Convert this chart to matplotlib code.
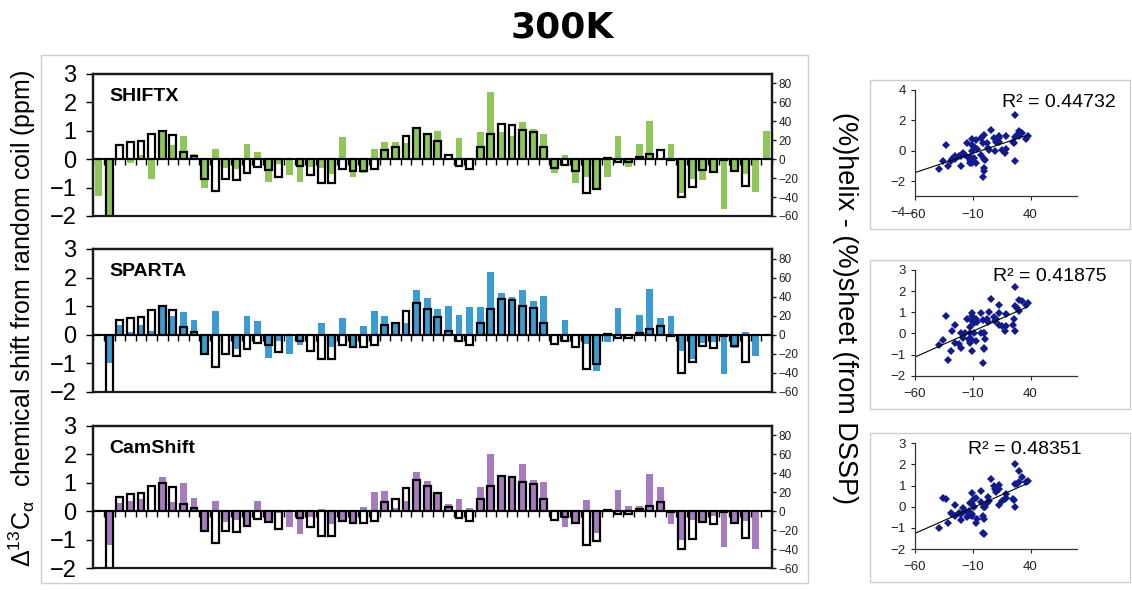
import numpy as np
import matplotlib
matplotlib.use("Agg")
import matplotlib.pyplot as plt
from matplotlib.patches import Rectangle

plt.rcParams['font.family'] = ['Liberation Sans', 'DejaVu Sans']
plt.rcParams['mathtext.fontset'] = 'custom'
plt.rcParams['mathtext.rm'] = 'Liberation Sans'
plt.rcParams['mathtext.it'] = 'Liberation Sans:italic'

# ---------------- data ----------------
residues = np.arange(64)

# (%)helix - (%)sheet from DSSP (outlined bars, right axis)
dssp_pct = [0, -62, 15, 18, 19, 26.5, 30, 25.5, 8, 3,
            -20.5, -33.5, -20.5, -22, -15, -8.5, -11, -18.4, 0, -7,
            -16.6, -25.5, -25.5, -10.6, -12.4, -12.4, -10.6, 10, 12.7, 24.8,
            33, 27, 18.8, 4.2, -7, -10.6, 12.7, 27, 37.5, 36,
            30.4, 28.3, 12.7, -9.2, -6.4, -12.7, -35.4, -31, 1, -3,
            -3, 2, 6, 9.5, -1, -39.6, -29, -11.3, -13.5, -1,
            -12, -28.3, 0, 0]

# predicted C-alpha secondary chemical shifts (ppm, left axis)
shiftx = [-1.31, -2.1, 0.03, -0.14, 0.15, -0.7, 0.98, 0.5, 0.82, 0.19,
          -1.02, 0.35, -0.32, -0.35, 0.53, 0.27, -0.82, -0.16, -0.57, -0.82,
          -0.26, -0.32, -0.53, 0.77, -0.61, -0.47, 0.35, 0.61, 0.59, 0.56,
          1.15, 0.88, 1.0, 0.02, 0.73, 0.0, 0.97, 2.36, 0.97, 0.8,
          1.3, 1.06, 0.87, -0.47, 0.14, -0.83, -0.64, -1.03, -0.61, 0.83,
          -0.28, 0.54, 1.35, 0.0, 0.52, -1.2, -0.68, -0.73, -0.45, -1.74,
          -0.4, -0.52, -1.16, 1.01]

sparta = [0.0, -0.97, 0.33, 0.1, 0.35, 0.12, 1.05, 0.66, 0.8, 0.53,
          -0.68, 0.84, 0.0, -0.49, 0.67, 0.47, -0.82, -0.23, -0.68, -0.35,
          0.0, 0.4, -0.44, 0.6, -0.38, 0.32, 0.84, 0.67, 0.42, 0.42,
          1.55, 1.3, 0.9, 1.02, 0.69, 0.98, 0.98, 2.19, 1.45, 1.33,
          1.57, 1.19, 1.35, 0.0, 0.52, 0.0, -0.31, -1.26, -0.26, 0.95,
          0.0, 0.69, 1.61, 0.57, 0.65, -0.57, -0.83, -0.27, -0.26, -1.38,
          -0.47, 0.11, -0.75, 0.0]

camshift = [0.0, -1.2, 0.29, 0.37, 0.42, 0.0, 1.19, 0.34, 1.0, 0.46,
            -0.65, 0.37, -0.36, -0.32, -0.48, 0.35, -0.42, -0.05, -0.56, -0.79,
            -0.19, 0.08, -0.45, -0.36, -0.38, 0.16, 0.66, 0.71, 0.1, 0.36,
            1.39, 1.06, 0.6, 0.26, 0.43, 0.13, 0.85, 2.02, 1.23, 1.18,
            1.67, 1.08, 1.02, 0.0, -0.56, -0.36, 0.41, -0.76, 0.0, 0.73,
            0.2, 0.18, 1.31, 0.85, -0.45, -1.0, -0.29, -0.35, -0.18, -1.26,
            -0.38, -0.33, -1.31, 0.0]

methods = ["SHIFTX", "SPARTA", "CamShift"]
method_values = [shiftx, sparta, camshift]
colors = ["#8fc65a", "#3d9bd3", "#a67cc0"]
r2_labels = ["R\u00b2 = 0.44732", "R\u00b2 = 0.41875", "R\u00b2 = 0.48351"]

left_ticks = [-2, -1, 0, 1, 2, 3]
right_ticks = [-60, -40, -20, 0, 20, 40, 60, 80]
scatter_xticks = [-60, -10, 40]
scatter_yticks = [[-4, -2, 0, 2, 4], [-2, -1, 0, 1, 2, 3], [-2, -1, 0, 1, 2, 3]]
scatter_ylims = [(-4, 4), (-2, 3), (-2, 3)]

# ---------------- layout ----------------
W, H = 1132, 590
fig = plt.figure(figsize=(W / 100, H / 100), dpi=100)


def fr(x0, y0, x1, y1):
    return [x0 / W, 1 - y1 / H, (x1 - x0) / W, (y1 - y0) / H]


def frame(x0, y0, x1, y1):
    fig.add_artist(Rectangle((x0 / W, 1 - y1 / H), (x1 - x0) / W, (y1 - y0) / H,
                             transform=fig.transFigure, fill=False,
                             edgecolor="#cfcfcf", linewidth=1.0))


frame(41, 55, 808, 583)
frame(870, 80, 1130, 229)
frame(870, 260, 1130, 409)
frame(870, 433, 1130, 582)

bar_boxes = [(93.3, 74, 771.7, 216), (93.3, 249, 771.7, 392), (93.3, 425.7, 771.7, 568.3)]
sc_boxes = [(915, 90, 1076.7, 211.6), (915, 270, 1076.7, 375.7), (915, 443.3, 1076.7, 549)]
r2_pos = [(0.89, 0.90), (0.835, 0.934), (0.68, 0.937)]

dssp = np.array(dssp_pct, dtype=float)
boundaries = np.arange(-0.5, 64, 1.0)

for k in range(3):
    vals = np.array(method_values[k], dtype=float)
    ax = fig.add_axes(fr(*bar_boxes[k]))
    ax.bar(residues, vals, width=0.66, color=colors[k], zorder=1)
    ax.set_xlim(-0.5, 63.5)
    ax.set_ylim(-2, 3)
    ax.set_yticks(left_ticks)
    ax.tick_params(axis='y', direction='out', length=5, width=1, labelsize=17, pad=7)
    ax.tick_params(axis='x', bottom=False, labelbottom=False)
    for s in ax.spines.values():
        s.set_linewidth(1.6)
        s.set_color('#1a1a1a')
    ax.text(0.024, 0.9, methods[k], transform=ax.transAxes, fontsize=14,
            fontweight='bold', va='top', ha='left')

    ax2 = ax.twinx()
    ax2.bar(residues, dssp, width=0.66, facecolor='none', edgecolor='black', linewidth=1.6)
    ax2.set_ylim(-60, 90)
    ax2.set_yticks(right_ticks)
    ax2.tick_params(axis='y', direction='out', length=3, width=1, labelsize=8.5, pad=2,
                    colors='#222222')
    ax2.xaxis.set_visible(True)
    ax2.set_xticks(boundaries)
    ax2.tick_params(axis='x', bottom=True, labelbottom=False, direction='out',
                    length=4, width=1)
    ax.tick_params(axis='x', bottom=False, labelbottom=False)
    ax2.spines['bottom'].set_position(('data', 0))
    ax2.spines['bottom'].set_linewidth(1.4)
    for side in ('top', 'left', 'right'):
        ax2.spines[side].set_linewidth(1.6)
        ax2.spines[side].set_color('#1a1a1a')

    # scatter panel
    sx = fig.add_axes(fr(*sc_boxes[k]))
    mask = dssp > -60
    xs = dssp[mask]
    ys = vals[mask]
    sx.plot(xs, ys, linestyle='none', marker='D', markersize=4.0,
            color='#131a8c', markeredgewidth=0)
    slope, icpt = np.polyfit(xs, ys, 1)
    xl = np.array([-60, xs.max()])
    sx.plot(xl, slope * xl + icpt, color='black', linewidth=0.8)
    sx.set_xlim(-60, 80)
    sx.set_ylim(*scatter_ylims[k])
    sx.set_xticks(scatter_xticks)
    sx.set_yticks(scatter_yticks[k])
    sx.spines['top'].set_visible(False)
    sx.spines['right'].set_visible(False)
    for s in ('left', 'bottom'):
        sx.spines[s].set_linewidth(0.9)
        sx.spines[s].set_color('#333333')
    if k == 0:
        sx.spines['bottom'].set_position(('data', -3))
        sx.spines['left'].set_bounds(-3, 4)
    sx.tick_params(axis='both', direction='out', length=3, width=0.8, labelsize=9.5,
                   colors='#222222')
    sx.tick_params(axis='x', pad=6)
    sx.patch.set_visible(False)
    sx.text(r2_pos[k][0], r2_pos[k][1], r2_labels[k], transform=sx.transAxes,
            ha='center', va='center', fontsize=14)

fig.text(562 / W, 1 - 28 / H, "300K", ha='center', va='center', fontsize=26,
         fontweight='bold', family=['DejaVu Sans'])
fig.text(22 / W, 1 - 318 / H,
         r"$\Delta^{13}$C$_{\mathrm{\alpha}}$  chemical shift from random coil (ppm)",
         rotation=90, ha='center', va='center', fontsize=18)
fig.text(845 / W, 1 - 308 / H, "(%)helix - (%)sheet (from DSSP)", rotation=270,
         ha='center', va='center', fontsize=19.5)

fig.savefig("out.png", dpi=100)
